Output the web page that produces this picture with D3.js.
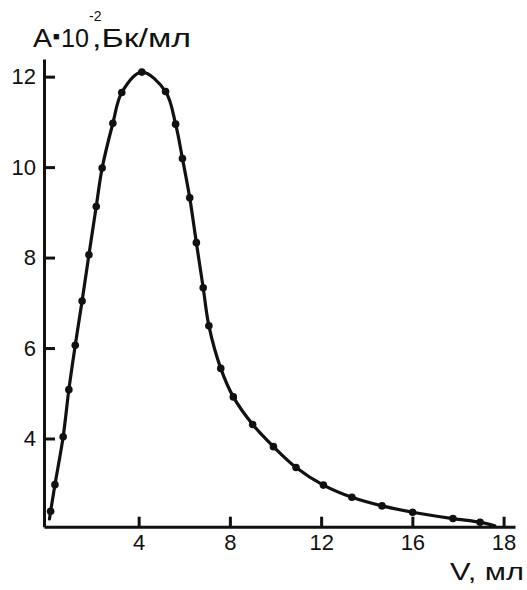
<!DOCTYPE html>
<html>
<head>
<meta charset="utf-8">
<script src="https://cdn.jsdelivr.net/npm/d3@7"></script>
<style>
  html, body { margin: 0; padding: 0; background: #ffffff; }
  svg { display: block; }
  text { font-family: "Liberation Sans", Arial, Helvetica, sans-serif; fill: #111; }
</style>
</head>
<body>
<svg id="chart" width="527" height="590"></svg>
<script>
// ---- data ----
const pointV = [0.14, 0.33, 0.69, 0.94, 1.22, 1.52, 1.82, 2.14, 2.40, 2.87, 3.26, 4.14,
                5.18, 5.62, 5.92, 6.24, 6.53, 6.83, 7.08, 7.60, 8.15, 9.00, 9.91, 10.90,
                12.10, 13.35, 14.67, 16.01, 17.78, 18.97];
const pointA = [2.39, 2.98, 4.04, 5.08, 6.06, 7.04, 8.06, 9.13, 9.98, 10.97, 11.65, 12.10,
                11.67, 10.95, 10.19, 9.32, 8.33, 7.33, 6.49, 5.55, 4.92, 4.31, 3.82, 3.36,
                2.97, 2.70, 2.51, 2.37, 2.23, 2.15];
// curve runs slightly past the first and last measured points
const curveStart = [0.09, 2.22];
const curveEnd = [19.61, 2.07];

const xTickValues = [4, 8, 12, 16, 20];
const xTickLabels = ["4", "8", "12", "16", "18"];
const yTickValues = [4, 6, 8, 10, 12];
const yTickLabels = ["4", "6", "8", "10", "12"];

const xDomain = [-0.15, 20.5];
const yDomain = [2.05, 12.39];

const yTitle = { main: "A", dot: "\u25A0", base: "10", sup: "-2", unit: ",Бк/мл" };
const xTitle = "V, мл";

// ---- chart ----
const svg = d3.select("#chart");
const x = d3.scaleLinear().domain(xDomain).range([44, 515]);
const y = d3.scaleLinear().domain(yDomain).range([526.7, 59]);

const xAxis = d3.axisBottom(x)
  .tickValues(xTickValues)
  .tickFormat((d, i) => xTickLabels[i])
  .tickSizeInner(-10).tickSizeOuter(0).tickPadding(8);
const yAxis = d3.axisLeft(y)
  .tickValues(yTickValues)
  .tickFormat((d, i) => yTickLabels[i])
  .tickSizeInner(-11).tickSizeOuter(0).tickPadding(8);

const gx = svg.append("g").attr("transform", `translate(0,${y(yDomain[0])})`).call(xAxis);
const gy = svg.append("g").attr("transform", `translate(${x(xDomain[0])},0)`).call(yAxis);

[gx, gy].forEach(g => {
  g.select(".domain").attr("stroke", "#111").attr("stroke-width", 3);
  g.selectAll(".tick line").attr("stroke", "#111").attr("stroke-width", 3);
  g.selectAll(".tick text")
    .attr("font-family", "'Liberation Sans', Arial, sans-serif")
    .attr("font-size", 22).attr("fill", "#111");
});

// curve
const curvePts = [curveStart].concat(pointV.map((v, i) => [v, pointA[i]]), [curveEnd]);
const line = d3.line()
  .x(d => x(d[0])).y(d => y(d[1]))
  .curve(d3.curveCatmullRom.alpha(0.5));
svg.append("path")
  .datum(curvePts)
  .attr("d", line)
  .attr("fill", "none")
  .attr("stroke", "#111")
  .attr("stroke-width", 3.2)
  .attr("stroke-linejoin", "round")
  .attr("stroke-linecap", "round");

// markers
svg.append("g").selectAll("circle")
  .data(pointV.map((v, i) => [v, pointA[i]]))
  .join("circle")
  .attr("cx", d => x(d[0]))
  .attr("cy", d => y(d[1]))
  .attr("r", 3.8)
  .attr("fill", "#111");

// y title
svg.append("text").attr("x", 33).attr("y", 47).attr("font-size", 25)
  .attr("textLength", 19).attr("lengthAdjust", "spacingAndGlyphs").text(yTitle.main);
svg.append("text").attr("x", 53).attr("y", 40).attr("font-size", 11)
  .attr("font-family", "'DejaVu Sans', sans-serif").text(yTitle.dot);
svg.append("text").attr("x", 61).attr("y", 47).attr("font-size", 25)
  .attr("textLength", 28).attr("lengthAdjust", "spacingAndGlyphs").text(yTitle.base);
svg.append("text").attr("x", 89).attr("y", 21).attr("font-size", 14).text(yTitle.sup);
svg.append("text").attr("x", 92).attr("y", 47).attr("font-size", 25)
  .attr("textLength", 99).attr("lengthAdjust", "spacingAndGlyphs").text(yTitle.unit);

// x title
svg.append("text").attr("x", 450).attr("y", 580).attr("font-size", 24)
  .attr("textLength", 74).attr("lengthAdjust", "spacingAndGlyphs").text(xTitle);
</script>
</body>
</html>
